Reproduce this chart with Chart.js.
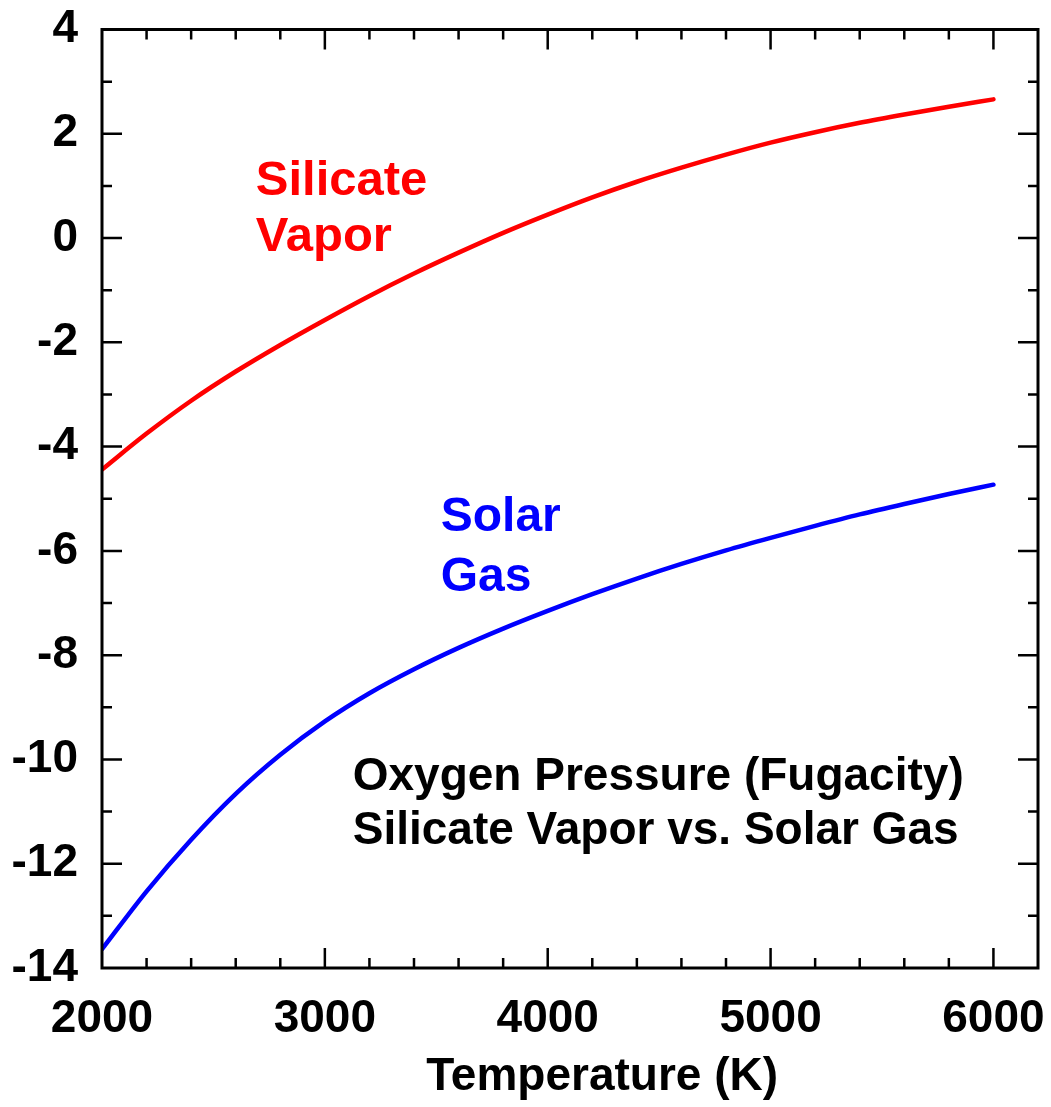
<!DOCTYPE html>
<html>
<head>
<meta charset="utf-8">
<title>Oxygen Pressure (Fugacity)</title>
<script src="https://cdn.jsdelivr.net/npm/chart.js@4.4.1/dist/chart.umd.min.js"></script>
<style>
  html, body { margin: 0; padding: 0; background: #fff; }
</style>
</head>
<body>
<canvas id="chart" width="1051" height="1107"></canvas>
<script>
// temperature (K)
var temps = [2000, 2200, 2400, 2600, 2800, 3000, 3200, 3400, 3600, 3800, 4000,
             4200, 4400, 4600, 4800, 5000, 5200, 5400, 5600, 5800, 6000];

// log oxygen fugacity
var silicateVapor = [-4.44, -3.75, -3.12, -2.56, -2.05, -1.57, -1.11, -0.68, -0.28, 0.10, 0.45,
                     0.78, 1.08, 1.35, 1.60, 1.83, 2.03, 2.21, 2.37, 2.52, 2.66];
var solarGas = [-13.64, -12.53, -11.54, -10.66, -9.91, -9.27, -8.73, -8.27, -7.86, -7.49, -7.15,
                -6.83, -6.53, -6.25, -5.99, -5.75, -5.52, -5.30, -5.10, -4.91, -4.73];

var xTicks = [2000, 3000, 4000, 5000, 6000];
var yTicks = [-14, -12, -10, -8, -6, -4, -2, 0, 2, 4];

var FONT = "'Liberation Sans', Arial, Helvetica, sans-serif";

function points(ys) {
  return temps.map(function(t, i) { return { x: t, y: ys[i] }; });
}

// box round the plot with inward ticks on all four sides
var frameTicks = {
  id: 'frameTicks',
  afterDatasetsDraw: function(chart) {
    var ctx = chart.ctx, a = chart.chartArea;
    var xs = chart.scales.x, ys = chart.scales.y;
    ctx.save();
    ctx.strokeStyle = '#000';
    ctx.lineWidth = 2.5;
    ctx.beginPath();
    for (var t = xs.min + 200; t < xs.max; t += 200) {
      var len = t % 1000 === 0 ? 20 : 10;
      var px = xs.getPixelForValue(t);
      ctx.moveTo(px, a.bottom); ctx.lineTo(px, a.bottom - len);
      ctx.moveTo(px, a.top); ctx.lineTo(px, a.top + len);
    }
    for (var v = ys.min + 1; v < ys.max; v += 1) {
      var len2 = v % 2 === 0 ? 20 : 10;
      var py = ys.getPixelForValue(v);
      ctx.moveTo(a.left, py); ctx.lineTo(a.left + len2, py);
      ctx.moveTo(a.right, py); ctx.lineTo(a.right - len2, py);
    }
    ctx.stroke();
    ctx.lineWidth = 3;
    ctx.strokeRect(a.left, a.top, a.right - a.left, a.bottom - a.top);
    ctx.restore();
  }
};

var labels = [
  { lines: ['Silicate', 'Vapor'], x: 2690, y: 0.83, size: 49, gap: 56.5, color: '#ff0000' },
  { lines: ['Solar', 'Gas'], x: 3520, y: -5.62, size: 48, gap: 60, color: '#0000ff' },
  { lines: ['Oxygen Pressure (Fugacity)', 'Silicate Vapor vs. Solar Gas'], x: 3125, y: -10.59, size: 46, gap: 54, color: '#000' }
];

var textLabels = {
  id: 'textLabels',
  afterDraw: function(chart) {
    var ctx = chart.ctx, xs = chart.scales.x, ys = chart.scales.y;
    ctx.save();
    ctx.textAlign = 'left';
    ctx.textBaseline = 'alphabetic';
    labels.forEach(function(l) {
      ctx.fillStyle = l.color;
      ctx.font = 'bold ' + l.size + 'px ' + FONT;
      var px = xs.getPixelForValue(l.x), py = ys.getPixelForValue(l.y);
      l.lines.forEach(function(s, i) { ctx.fillText(s, px, py + i * l.gap); });
    });
    // axis title
    ctx.fillStyle = '#000';
    ctx.font = 'bold 46px ' + FONT;
    ctx.textAlign = 'center';
    ctx.fillText('Temperature (K)', xs.getPixelForValue(4244), chart.chartArea.bottom + 122);
    ctx.restore();
  }
};

var ctx = document.getElementById('chart').getContext('2d');
var myChart = new Chart(ctx, {
  type: 'line',
  data: {
    datasets: [
      { label: 'Silicate Vapor', data: points(silicateVapor), borderColor: '#ff0000', borderWidth: 4.5,
        pointRadius: 0, cubicInterpolationMode: 'monotone', borderCapStyle: 'round', fill: false },
      { label: 'Solar Gas', data: points(solarGas), borderColor: '#0000ff', borderWidth: 4.5,
        pointRadius: 0, cubicInterpolationMode: 'monotone', borderCapStyle: 'round', fill: false }
    ]
  },
  options: {
    responsive: false,
    animation: false,
    layout: { padding: 0 },
    plugins: { legend: { display: false }, tooltip: { enabled: false } },
    scales: {
      x: {
        type: 'linear', min: 2000, max: 6200,
        grid: { display: false, drawTicks: false },
        border: { display: false },
        afterBuildTicks: function(scale) { scale.ticks = xTicks.map(function(v) { return { value: v }; }); },
        afterFit: function(scale) {
          scale.height = 139;
          scale.paddingLeft = 0;
          scale.paddingRight = 13;
        },
        ticks: { color: '#000', padding: 24, autoSkip: false, maxRotation: 0,
                 callback: function(v) { return String(v); },
                 font: { family: FONT, size: 46, weight: 'bold' } }
      },
      y: {
        type: 'linear', min: -14, max: 4,
        grid: { display: false, drawTicks: false },
        border: { display: false },
        afterBuildTicks: function(scale) { scale.ticks = yTicks.map(function(v) { return { value: v }; }); },
        afterFit: function(scale) {
          scale.width = 102;
          scale.paddingTop = 29.5;
          scale.paddingBottom = 0;
        },
        ticks: { color: '#000', padding: 24, autoSkip: false,
                 callback: function(v) { return String(v); },
                 font: { family: FONT, size: 46, weight: 'bold' } }
      }
    }
  },
  plugins: [frameTicks, textLabels]
});
</script>
</body>
</html>
